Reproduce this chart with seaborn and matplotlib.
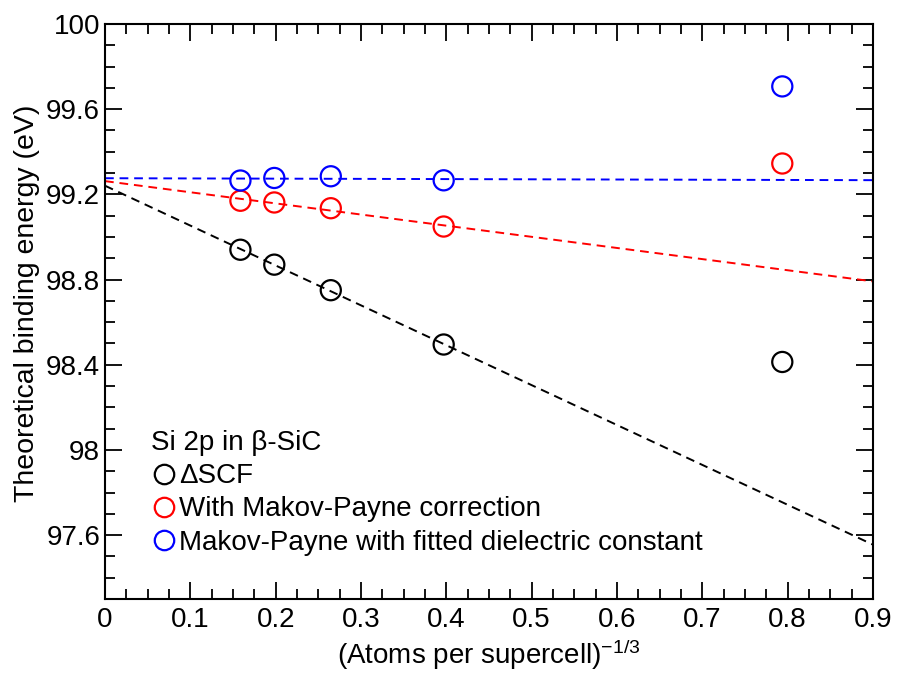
import numpy as np
import pandas as pd
import seaborn as sns
import matplotlib
matplotlib.use("Agg")
import matplotlib.pyplot as plt
from matplotlib.ticker import MultipleLocator
from matplotlib.lines import Line2D

# ---- data ----
x_vals = [0.1587, 0.1984, 0.2646, 0.3969, 0.7937]
dscf = [98.940, 98.870, 98.750, 98.495, 98.413]
makov_payne = [99.170, 99.162, 99.135, 99.049, 99.345]
mp_fitted = [99.265, 99.277, 99.285, 99.266, 99.707]
series_labels = ["ΔSCF", "With Makov-Payne correction",
                 "Makov-Payne with fitted dielectric constant"]
series_colors = ["black", "#ff0000", "#0000ff"]
n_fit = 4  # fits use the four largest supercells
legend_title = "Si 2p in β-SiC"
x_label = "(Atoms per supercell)$^{-1/3}$"
y_label = "Theoretical binding energy (eV)"
y_tick_vals = [97.6, 98.0, 98.4, 98.8, 99.2, 99.6, 100.0]
y_tick_text = ["97.6", "98", "98.4", "98.8", "99.2", "99.6", "100"]
x_tick_vals = [0, 0.1, 0.2, 0.3, 0.4, 0.5, 0.6, 0.7, 0.8, 0.9]
x_tick_text = ["0", "0.1", "0.2", "0.3", "0.4", "0.5", "0.6", "0.7", "0.8", "0.9"]

sns.set_theme(style="ticks")
plt.rcParams["font.family"] = ["Liberation Sans", "DejaVu Sans"]
plt.rcParams["mathtext.fontset"] = "custom"
plt.rcParams["mathtext.rm"] = "Liberation Sans"
plt.rcParams["mathtext.it"] = "Liberation Sans"
plt.rcParams["text.color"] = "black"

fig = plt.figure(figsize=(8.97, 6.75), dpi=100)
ax = fig.add_axes([105 / 897, 1 - 599 / 675, 768 / 897, 575 / 675])
ax.set_xlim(0, 0.9)
ax.set_ylim(97.3, 100)

ys = [dscf, makov_payne, mp_fitted]
handles = []
for y, lab, col in zip(ys, series_labels, series_colors):
    df = pd.DataFrame({"x": x_vals, "y": y})
    sns.regplot(data=df.iloc[:n_fit], x="x", y="y", ax=ax, scatter=False,
                ci=None, truncate=False,
                line_kws=dict(color=col, ls=(0, (4.5, 3)), lw=1.4))
    sns.scatterplot(data=df, x="x", y="y", ax=ax, marker="o", s=210,
                    facecolor="none", edgecolor=col, linewidth=1.6,
                    zorder=5)
    handles.append(Line2D([], [], ls="", marker="o", ms=14, mfc="none",
                          mec=col, mew=1.6, label=lab))

ax.set_xlim(0, 0.9)
ax.set_ylim(97.3, 100)

ax.xaxis.set_minor_locator(MultipleLocator(0.025))
ax.yaxis.set_minor_locator(MultipleLocator(0.1))
ax.set_yticks(y_tick_vals)
ax.set_yticklabels(y_tick_text)
ax.set_xticks(x_tick_vals)
ax.set_xticklabels(x_tick_text)

ax.tick_params(which="both", direction="in", top=True, right=True,
               color="black", width=1.3, labelsize=20, labelcolor="black")
ax.tick_params(which="major", length=12)
ax.tick_params(which="minor", length=7.5)
ax.tick_params(axis="x", which="major", pad=6)
ax.tick_params(axis="y", which="major", pad=3.5)
for sp in ax.spines.values():
    sp.set_linewidth(1.5)
    sp.set_color("black")

ax.set_xlabel(x_label, fontsize=20, color="black", labelpad=3)
ax.set_ylabel(y_label, fontsize=20.5, color="black")
ax.yaxis.set_label_coords(-0.084, 0.514)

leg = ax.legend(handles=handles, title=legend_title, loc="lower left",
                bbox_to_anchor=(0.0455, 0.056), frameon=False, fontsize=20,
                title_fontsize=20, handlelength=0.9, handletextpad=0.1,
                labelspacing=0.26, borderaxespad=0, alignment="left")
for t in leg.get_texts():
    t.set_color("black")
leg.get_title().set_color("black")

fig.savefig("out.png", dpi=100)
